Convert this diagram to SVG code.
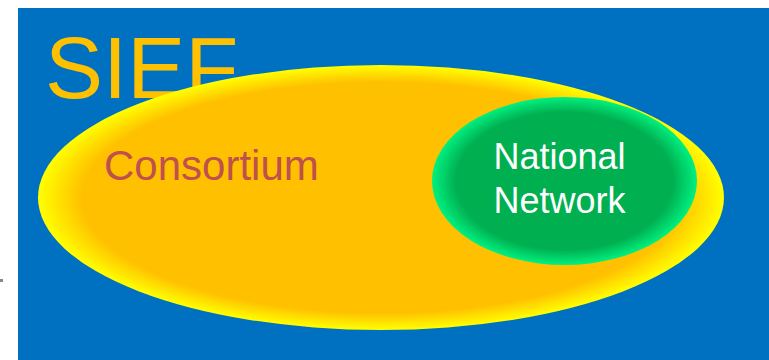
<svg xmlns="http://www.w3.org/2000/svg" width="769" height="360" viewBox="0 0 769 360">
  <defs>
    <radialGradient id="gOrange" cx="50%" cy="50%" r="50%">
      <stop offset="0" stop-color="#FFC000"/>
      <stop offset="0.87" stop-color="#FFC000"/>
      <stop offset="1" stop-color="#FFFF00"/>
    </radialGradient>
    <radialGradient id="gGreen" cx="50%" cy="50%" r="50%">
      <stop offset="0" stop-color="#00B050"/>
      <stop offset="0.82" stop-color="#00B050"/>
      <stop offset="1" stop-color="#00F080"/>
    </radialGradient>
    <style>
      text { font-family: "Liberation Sans", Arial, sans-serif; }
      .title { font-size: 87px; fill: #FFC000; }
      .cons { font-size: 42px; fill: #C0504D; }
      .nat { font-size: 36px; fill: #FFFFFF; text-anchor: middle; }
    </style>
  </defs>
  <rect x="0" y="0" width="769" height="360" fill="#FFFFFF"/>
  <rect x="0" y="279" width="3" height="3" fill="#888888"/>
  <rect id="background" x="18" y="8" width="751" height="352" fill="#0070C0"/>
  <text class="title" x="45" y="98">SIEF</text>
  <g id="consortium">
    <ellipse cx="381" cy="197.5" rx="343" ry="132.5" fill="url(#gOrange)"/>
    <text class="cons" x="104" y="180">Consortium</text>
  </g>
  <g id="national-network">
    <ellipse cx="564.5" cy="181" rx="132.5" ry="84" fill="url(#gGreen)"/>
    <text class="nat" x="559.5" y="169">National</text>
    <text class="nat" x="559.5" y="213">Network</text>
  </g>
  <g id="connectors"/>
</svg>
